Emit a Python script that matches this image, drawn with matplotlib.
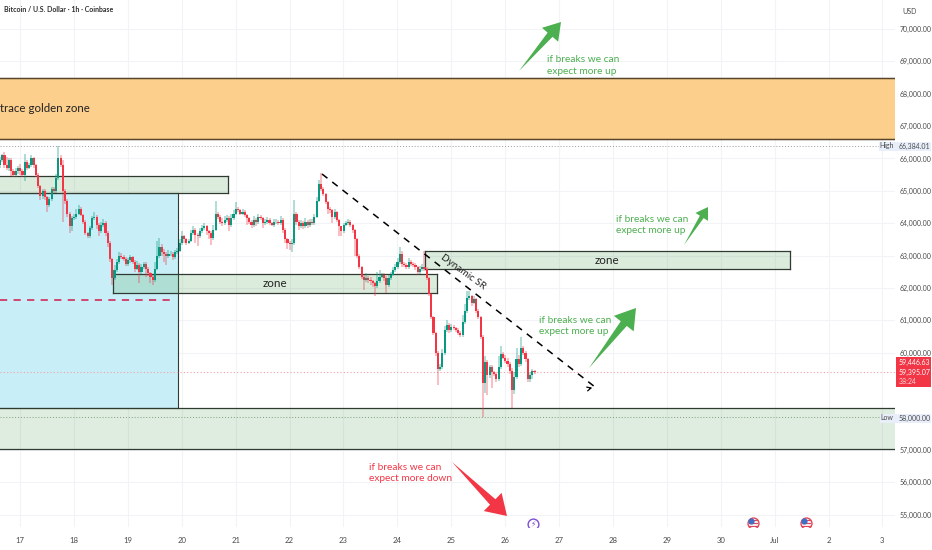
import numpy as np
import matplotlib
matplotlib.use("Agg")
import matplotlib.pyplot as plt
from matplotlib.patches import Rectangle, Polygon

plt.rcParams['font.family'] = ['Lato', 'DejaVu Sans']

# hourly closes (USD)
closes = [
    65950,66100,65800,65700,65950,65600,65500,65600,65700,65600,65500,65900,
    65700,65800,66000,65800,65500,65150,64850,65000,64800,64550,64750,65050,
    65000,65400,66000,65800,65000,64700,64300,63900,64150,64200,64300,64450,
    64250,64050,63700,63600,63850,64150,64200,63950,63750,63950,64000,63700,
    63400,62900,62300,62550,62800,63000,62950,62900,62750,62850,62950,62800,
    62600,62700,62500,62650,62750,62600,62450,62350,62250,62600,63000,63250,
    63100,63050,63000,63050,63050,62950,63100,63150,63400,63600,63500,63400,
    63450,63700,63800,63650,63600,63750,63850,63900,63750,63700,63550,63800,
    64300,64200,64050,64000,64100,64150,63950,64150,64300,64450,64400,64300,
    64350,64250,64150,64050,63950,64100,64050,64200,64150,64000,64050,64100,
    64000,63950,64050,64050,64000,64100,63800,63500,63400,63350,63400,64300,
    64050,63900,64000,63900,64050,63950,64050,64000,64200,64700,65200,65050,
    64900,64650,64450,64400,64200,64350,64100,63900,63750,63950,64000,64050,
    63950,63800,63500,63000,62650,62350,62250,62300,62250,62200,62150,62050,
    62200,62350,62400,62300,62100,62300,62400,62550,62650,62800,63050,62750,
    62700,62650,62800,62750,62700,62650,62500,62600,62650,62600,62300,61800,
    61100,60600,60000,59500,59550,60000,60700,60850,60700,60800,60750,60700,
    60600,60550,60950,61300,61700,61750,61550,61650,61300,61100,60500,59060,
    59700,59300,59550,59400,59350,59200,59550,59950,59850,59750,59650,59450,
    58850,59250,59800,59650,60150,60000,59800,59200,59300,59450,59395,
]
first_open = 65800

# wick length above / below the candle body
up_wick = [
    100,50,100,250,60,60,80,100,60,120,60,250,
    60,70,100,50,40,40,40,50,50,40,60,80,
    60,120,384,120,150,60,50,40,60,100,150,120,
    60,50,40,40,60,80,150,60,60,100,120,60,
    50,50,40,150,80,120,80,60,60,70,60,50,
    60,120,70,100,60,50,60,50,40,200,450,300,
    120,100,70,120,80,60,80,70,120,150,50,40,
    60,80,120,60,40,100,80,120,60,40,60,150,
    400,50,40,100,120,90,60,150,100,200,60,50,
    80,60,40,40,50,120,60,100,60,40,70,100,
    70,50,90,80,50,120,50,40,50,40,100,420,
    50,40,90,60,100,60,90,80,100,100,120,350,
    60,40,50,50,40,100,30,30,20,60,80,80,
    50,40,30,30,40,30,60,150,60,80,50,40,
    300,200,70,50,80,100,80,100,100,120,220,80,
    50,60,120,60,40,60,40,80,100,500,40,30,
    40,30,30,50,100,100,130,150,60,90,50,40,
    50,60,200,200,200,150,40,100,40,60,40,50,
    200,60,80,60,50,40,350,250,80,70,100,50,
    80,150,350,120,330,50,40,40,100,60,30,
]
down_wick = [
    80,70,100,60,80,150,70,60,80,100,60,200,
    60,40,60,80,60,60,120,100,80,200,60,50,
    60,70,50,70,960,100,100,200,150,50,60,50,
    40,60,60,70,60,60,60,120,150,60,70,100,
    120,100,200,60,50,50,60,80,60,60,80,60,
    100,60,350,60,50,250,90,200,150,60,40,60,
    100,250,300,80,60,80,60,40,50,60,120,80,
    50,40,70,250,300,60,50,60,100,200,220,80,
    40,70,60,100,50,50,200,60,50,60,40,50,
    60,70,200,60,100,60,150,70,50,150,60,70,
    60,50,60,70,50,40,100,120,200,180,230,60,
    100,100,60,90,60,100,60,60,60,50,50,60,
    60,60,150,70,200,80,70,300,150,60,50,70,
    60,90,500,80,60,60,300,80,100,120,120,300,
    60,60,50,100,250,70,50,40,60,60,50,90,
    60,70,60,60,60,80,100,60,70,80,60,60,
    70,60,100,500,80,60,60,60,100,70,60,70,
    60,60,60,50,60,60,100,60,80,60,80,1060,
    300,600,70,500,80,100,60,50,60,70,80,100,
    550,120,60,100,50,60,100,120,120,100,60,
]

price_ticks = [55000, 56000, 57000, 60000, 61000, 62000, 63000,
               64000, 65000, 66000, 67000, 68000, 69000, 70000]
day_ticks = list(range(17, 34))
day_labels = ['17','18','19','20','21','22','23','24','25','26','27','28','29','30','Jul','2','3']

UP = '#089981'
DOWN = '#f23645'
ARROW_GREEN = '#4caf50'
W, H = 932, 550
RIGHT, BOTTOM = 895, 527

# pixel positions -> data, for the drawings placed by hand
def day_of(px):
    return 17 + (px - 20) / 53.9

def price_of(py):
    return 70000 - (py - 29) / 32.37 * 1000

fig = plt.figure(figsize=(9.32, 5.5), dpi=100)
ax = fig.add_axes([0, (H - BOTTOM) / H, RIGHT / W, BOTTOM / H])
ax.set_xlim(day_of(0), day_of(RIGHT))
ax.set_ylim(price_of(BOTTOM), price_of(0))

for side in ax.spines.values():
    side.set_visible(False)
ax.yaxis.tick_right()
ax.set_yticks(price_ticks)
ax.set_yticklabels([f'{p:,.2f}' for p in price_ticks])
ax.set_xticks(day_ticks)
ax.set_xticklabels(day_labels)
ax.tick_params(length=0, labelcolor='#4a4a4a')
ax.tick_params(axis='y', pad=3.5, labelsize=5.0)
ax.tick_params(axis='x', pad=7, labelsize=5.6)
ax.grid(color='#f2f3f7', linewidth=0.8)
ax.set_axisbelow(True)

# zones
def zone(px0, px1, py0, py1, color, alpha, z, sides=True, lw=0.9):
    x0, x1 = day_of(px0), day_of(px1)
    top, bot = price_of(py0), price_of(py1)
    ax.add_patch(Rectangle((x0, bot), x1 - x0, top - bot, facecolor=color, alpha=alpha,
                           edgecolor='none', zorder=z))
    ax.plot([x0, x1], [top, top], color='#2f3b30', lw=lw, zorder=z + 0.1)
    ax.plot([x0, x1], [bot, bot], color='#2f3b30', lw=lw, zorder=z + 0.1)
    if sides:
        ax.plot([x1, x1], [top, bot], color='#2f3b30', lw=lw, zorder=z + 0.1)

zone(0, RIGHT, 78, 139, '#fdcf8c', 1.0, 1, sides=False)
ax.plot([day_of(0), day_of(RIGHT)], [price_of(78)] * 2, color='#5b4526', lw=0.9, zorder=1.2)
ax.plot([day_of(0), day_of(RIGHT)], [price_of(139)] * 2, color='#5b4526', lw=0.9, zorder=1.2)
zone(0, 178, 193, 408, '#c8eef7', 1.0, 1, lw=0.8)
zone(0, RIGHT, 408, 449, '#4c9f50', 0.18, 1.5, sides=False)
zone(0, 228, 176, 193, '#4c9f50', 0.2, 1.5)
zone(113, 437, 274, 292.5, '#4c9f50', 0.2, 1.5)
ax.plot([day_of(113)] * 2, [price_of(274), price_of(292.5)], color='#2f3b30', lw=0.9, zorder=1.6)
zone(425, 790, 251, 269, '#4c9f50', 0.2, 1.5)
ax.plot([day_of(425)] * 2, [price_of(251), price_of(269)], color='#2f3b30', lw=0.9, zorder=1.6)

ax.plot([day_of(0), day_of(175)], [price_of(300)] * 2, color='#d13a66', lw=1.3,
        dashes=(4, 3.5), zorder=2)

# high / low / last price lines
ax.axhline(66384.01, color='#9a9a9a', lw=0.7, ls=(0, (1, 2)), zorder=2)
ax.axhline(58000, color='#7f9a7f', lw=0.7, ls=(0, (1, 2)), zorder=2)
ax.axhline(59395.07, color='#f5a0a8', lw=0.8, ls=(0, (1, 2)), zorder=2)

# candles
c = np.array(closes, dtype=float)
o = np.concatenate([[first_open], c[:-1]])
hi = np.maximum(o, c) + np.array(up_wick)
lo = np.minimum(o, c) - np.array(down_wick)
x = day_of(0) + np.arange(len(c)) / 24
colors = np.where(c >= o, UP, DOWN)
ax.vlines(x, lo, hi, colors=colors, linewidth=1.3, alpha=0.35, zorder=3)
ax.bar(x, np.abs(c - o), bottom=np.minimum(o, c), width=0.95 / 24, color=colors, zorder=4)

# trend line
line_x = [day_of(322), day_of(595)]
line_y = [price_of(174), price_of(387)]
ax.plot(line_x, line_y, color='black', lw=1.1, dashes=(4.5, 4), zorder=5)
ax.annotate('', xy=(line_x[1], line_y[1]), xytext=(day_of(587), price_of(389)),
            arrowprops=dict(arrowstyle='->', color='black', lw=0.9, mutation_scale=7), zorder=5)

# drawn arrows
def arrow(tail, tip, color, head=0.26, barb=0.165, shaft=0.05):
    tail = np.array(tail, dtype=float)
    tip = np.array(tip, dtype=float)
    d = tip - tail
    n = np.array([-d[1], d[0]])
    base = tip - head * d
    shape = [tail, base + shaft * n, base + barb * n, tip, base - barb * n, base - shaft * n]
    pts = [(day_of(p[0]), price_of(p[1])) for p in shape]
    ax.add_patch(Polygon(pts, closed=True, facecolor=color, edgecolor='none', zorder=6))

arrow((519, 71), (561, 22), ARROW_GREEN)
arrow((684, 245), (708, 207), ARROW_GREEN)
arrow((589, 368), (636, 308), ARROW_GREEN)
arrow((452, 462), (507, 516), DOWN)

# text drawn on the chart
def note(px, py, s, color='#222222', size=7.3, **kw):
    ax.text(day_of(px), price_of(py), s, color=color, fontsize=size, va='center', zorder=7, **kw)

note(0, 108, 'trace golden zone', size=8.3)
note(275, 283, 'zone', ha='center', size=8.4)
note(607, 260, 'zone', ha='center', size=8.4)
note(463, 272, 'Dynamic SR', ha='center', size=7.2, rotation=-36, rotation_mode='anchor')
note(547, 65.5, 'if breaks we can\nexpect more up', color=ARROW_GREEN, linespacing=1.3)
note(616, 225, 'if breaks we can\nexpect more up', color=ARROW_GREEN, linespacing=1.3)
note(539, 326, 'if breaks we can\nexpect more up', color=ARROW_GREEN, linespacing=1.3)
note(369, 473, 'if breaks we can\nexpect more down', color=DOWN, linespacing=1.3)

# event icons along the bottom
for px in [753, 806]:
    ax.scatter(day_of(px), price_of(523), s=62, facecolor='white', edgecolor='#e0485a', lw=1.0, zorder=7)
    for dy in [-3, 0, 3]:
        ax.plot([day_of(px - 4), day_of(px + 4)], [price_of(523 + dy)] * 2, color='#e0485a', lw=0.9, zorder=8)
    ax.scatter(day_of(px - 2), price_of(521), s=12, color='#3f6fc4', zorder=9)
ax.scatter(day_of(533), price_of(524), s=60, facecolor='white', edgecolor='#7e4fd0', lw=1.0, zorder=7)
ax.text(day_of(533), price_of(524), '\u26a1', color='#7e4fd0', fontsize=5.5, ha='center', va='center',
        family='DejaVu Sans', zorder=8)

# boxes and labels on the price scale
def fig_box(px0, py0, px1, py1, color):
    fig.add_artist(Rectangle((px0 / W, 1 - py1 / H), (px1 - px0) / W, (py1 - py0) / H,
                             facecolor=color, edgecolor='none', transform=fig.transFigure, zorder=3))

def fig_text(px, py, s, color='#4a4a4a', size=5.0, ha='left', weight='normal'):
    fig.text(px / W, 1 - py / H, s, color=color, fontsize=size, ha=ha, va='center',
             weight=weight, zorder=4)

fig_box(879, 142, 931, 151, '#e8eefa')
fig_box(880, 414, 931, 423, '#e8eefa')
fig_box(896, 357, 931, 387, '#f23645')
fig_text(887, 146, 'High', ha='center')
fig_text(899, 146, '66,384.01')
fig_text(887, 418, 'Low', ha='center')
fig_text(899, 418, '58,000.00')
fig_text(899, 362, '59,446.63', color='white')
fig_text(899, 372, '59,395.07', color='white')
fig_text(899, 381, '38:24', color='#ffd5d9')
fig_text(902, 11, 'USD')
fig_text(4, 10, 'Bitcoin / U.S. Dollar \u00b7 1h \u00b7 Coinbase', color='#2e2e2e', size=5.0, weight='bold')

fig.savefig('out.png', dpi=100)
